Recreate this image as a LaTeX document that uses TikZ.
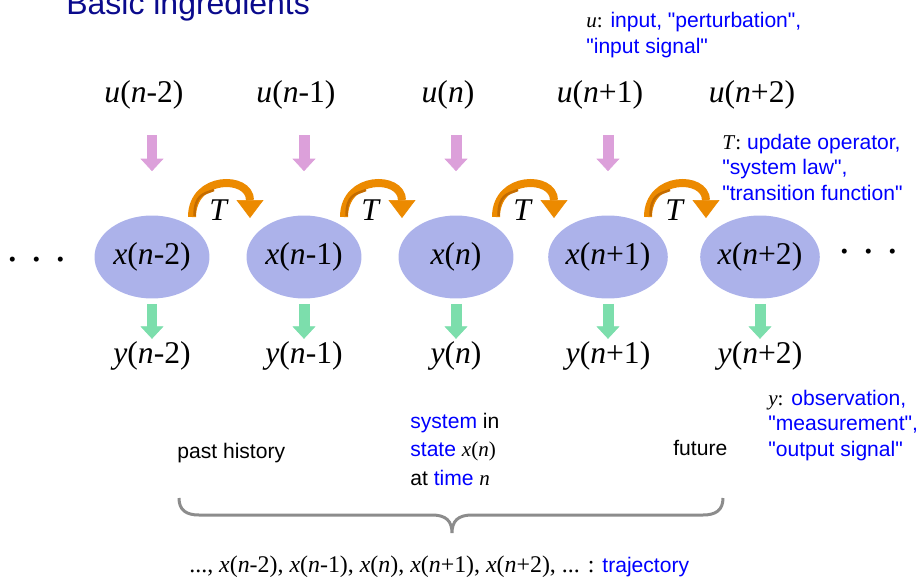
\documentclass[tikz,border=0pt]{standalone}
\usepackage{fontspec}
\setmainfont{Liberation Sans}[Ligatures=TeXOff]
\newfontfamily\tms{Liberation Serif}
\usepackage{xcolor}
\usetikzlibrary{shapes.geometric, arrows.meta, calc}

\definecolor{navytitle}{RGB}{10,10,140}
\definecolor{statefill}{RGB}{172,178,234}
\definecolor{inpink}{RGB}{220,160,218}
\definecolor{outgreen}{RGB}{124,222,172}
\definecolor{torange}{RGB}{236,138,0}
\definecolor{tdark}{RGB}{196,108,0}
\definecolor{bracegray}{RGB}{140,140,140}
\newcommand{\sigfont}{\tms\fontsize{18}{20}\selectfont}
\newcommand{\vv}[1]{\textit{#1}}

\begin{document}
\begin{tikzpicture}[x=0.02cm, y=-0.02cm,
  state/.style={ellipse, fill=statefill, minimum width=2.3cm, minimum height=1.66cm, inner sep=0pt, font=\sigfont},
  sig/.style={inner sep=0pt, font=\sigfont},
  note/.style={inner sep=0pt, anchor=base west, align=left, blue, font=\fontsize{12}{14.5}\selectfont},
  inarrow/.style={inpink, line width=0.22cm, -{Triangle[width=0.46cm, length=0.25cm, line width=0.4pt]}},
  outarrow/.style={outgreen, line width=0.22cm, -{Triangle[width=0.46cm, length=0.25cm, line width=0.4pt]}},
  tarrow/.style={torange, line width=0.16cm, -{Triangle[width=0.54cm, length=0.36cm, line width=0.4pt]}}]
\clip (0,0) rectangle (921,582);
\node[anchor=base west, inner sep=0pt, navytitle, font=\fontsize{18.2}{20}\selectfont] (title) at (66,14) {Basic ingredients};

\foreach \i/\s in {0/-2,1/-1,2/,3/+1,4/+2}{
  \node[state] (x\i) at ({152+152*\i},257) {\vv{x}(\vv{n}\s)};
  \node[sig] (u\i) at ({144+152*\i},95) {\vv{u}(\vv{n}\s)};
  \node[sig] (y\i) at ({152+152*\i},356) {\vv{y}(\vv{n}\s)};
  \draw[outarrow] ($(x\i.south)+(0,5)$) -- ++(0,35);
}
\foreach \i in {0,...,3}
  \draw[inarrow] ($(x\i.north)+(0,-80)$) -- ++(0,36);
\foreach \i/\j in {0/1,1/2,2/3,3/4}{
  \draw[tarrow] ($(x\i.center)+(40,-40)$) .. controls +(0,-42) and +(0,-43) .. ($(x\j.center)+(-54,-39)$);
  \draw[tdark, line width=0.05cm] ($(x\i.center)+(42.5,-41)$) .. controls +(0,-22) and +(-10,4) .. ($(x\i.center)+(62,-67)$);
  \node[sig] (t\i) at ($(x\i.center)+(67,-47)$) {\vv{T}};
}
\node[anchor=base, inner sep=0pt, font=\tms\fontsize{24}{26}\selectfont] (ldots) at (37,261) {.\hspace{7.6pt}.\hspace{7.6pt}.};
\node[anchor=base, inner sep=0pt, font=\tms\fontsize{24}{26}\selectfont] (rdots) at (869,253) {.\hspace{7.6pt}.\hspace{7.6pt}.};

\node[note] (unote) at (586,53) {{\tms\color{black}\vv{u}:} input, "perturbation",\\"input signal"};
\node[note] (tnote) at (722,200) {{\tms\color{black}\vv{T}:} update operator,\\"system law",\\"transition function"};
\node[note] (ynote) at (768,456) {{\tms\color{black}\vv{y}:} observation,\\"measurement",\\"output signal"};

\node[note, black] (past) at (177,458) {past history};
\node[note, black, font=\fontsize{12}{16.2}\selectfont] (now) at (410,485) {{\color{blue}system} in\\{\color{blue}state} {\tms\vv{x}(\vv{n})}\\at {\color{blue}time} {\tms\vv{n}}};
\node[note, black] (future) at (673,455) {future};

\draw[bracegray, line width=0.06cm] (179,498) .. controls (179,510) and (186,515) .. (199,515) -- (432,515) .. controls (446,515) and (452,521) .. (452,533) .. controls (452,521) and (458,515) .. (472,515) -- (703,515) .. controls (716,515) and (723,510) .. (723,498);

\node[anchor=base west, inner sep=0pt, font=\tms\fontsize{13.6}{15}\selectfont] (traj) at (189,572) {..., \vv{x}(\vv{n}-2), \vv{x}(\vv{n}-1), \vv{x}(\vv{n}), \vv{x}(\vv{n}+1), \vv{x}(\vv{n}+2), ... : {\normalfont\fontsize{12}{14}\selectfont\color{blue}trajectory}};
\end{tikzpicture}
\end{document}
